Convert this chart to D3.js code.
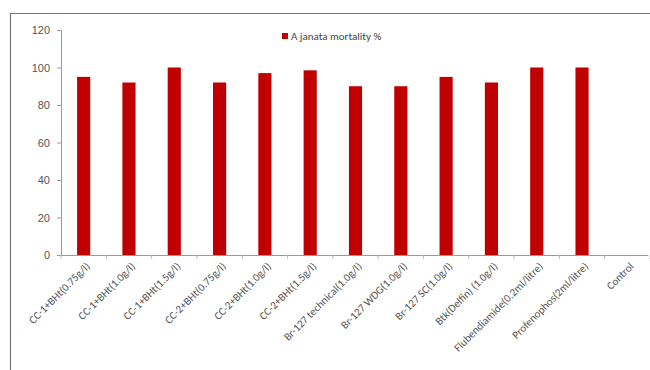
<!DOCTYPE html>
<html>
<head>
<meta charset="utf-8">
<script src="https://cdn.jsdelivr.net/npm/d3@7"></script>
<style>
  body { margin: 0; background: #fff; }
  svg { font-family: Calibri, Carlito, Lato, "Liberation Sans", Arial, sans-serif; }
</style>
</head>
<body>
<svg id="chart" width="650" height="370"></svg>
<script>
// treatments on the x axis
const treatments = [
  'CC-1+BHt(0.75g/l)', 'CC-1+BHt(1.0g/l)', 'CC-1+BHt(1.5g/l)',
  'CC-2+BHt(0.75g/l)', 'CC-2+BHt(1.0g/l)', 'CC-2+BHt(1.5g/l)',
  'Br-127 technical(1.0g/l)', 'Br-127 WDG(1.0g/l)', 'Br-127 SC(1.0g/l)',
  'Btk(Delfin) (1.0g/l)', 'Flubendiamide(0.2ml/litre)', 'Profenophos(2ml/litre)',
  'Control'
];
// A. janata mortality %
const mortality = [95, 92, 100, 92, 97, 98.5, 90, 90, 95, 92, 100, 100, 0];
const yTicks = [0, 20, 40, 60, 80, 100, 120];
const seriesName = 'A janata mortality %';

let svg = d3.select('#chart');

//outer frame lines
svg.append('line').attr('x1', 10).attr('y1', 13.5).attr('x2', 650).attr('y2', 13.5)
  .attr('stroke', '#777').attr('stroke-width', 1.2);
svg.append('line').attr('x1', 10.5).attr('y1', 13).attr('x2', 10.5).attr('y2', 370)
  .attr('stroke', '#777').attr('stroke-width', 1.2);

let x = d3.scaleBand().domain(treatments).range([61, 650]).paddingInner(0.71).paddingOuter(0.355);
let y = d3.scaleLinear().domain([0, 120]).range([255, 30]);

//y axis
let yAxis = d3.axisLeft(y).tickValues(yTicks).tickSize(4).tickPadding(7);
let gy = svg.append('g').attr('transform', 'translate(61,0)').call(yAxis);
gy.select('.domain').attr('stroke', '#999');
gy.selectAll('.tick line').attr('stroke', '#999');
gy.selectAll('.tick text').attr('fill', '#555').style('font-size', '11px');

//bars
svg.append('g').selectAll('rect')
  .data(mortality)
  .join('rect')
  .attr('x', (d, i) => x(treatments[i]))
  .attr('y', d => y(d))
  .attr('width', x.bandwidth())
  .attr('height', d => y(0) - y(d))
  .attr('fill', '#c00000');

//x axis line with ticks between categories
let step = x.step();
svg.append('line').attr('x1', 61).attr('x2', 648).attr('y1', 255.5).attr('y2', 255.5)
  .attr('stroke', '#999');
svg.append('g').selectAll('line')
  .data(d3.range(treatments.length + 1))
  .join('line')
  .attr('x1', i => 61 + i * step).attr('x2', i => 61 + i * step)
  .attr('y1', 255).attr('y2', 259)
  .attr('stroke', '#bbb');

//rotated category labels
svg.append('g').selectAll('text')
  .data(treatments)
  .join('text')
  .attr('transform', d => 'translate(' + (x(d) + x.bandwidth() / 2 + 7) + ',267)rotate(-45)')
  .attr('text-anchor', 'end')
  .attr('fill', '#555')
  .style('font-size', '11px')
  .text(d => d);

//legend
let legend = svg.append('g').attr('transform', 'translate(282,33)');
legend.append('rect').attr('width', 6).attr('height', 6).attr('fill', '#c00000');
legend.append('text').attr('x', 9).attr('y', 7).attr('fill', '#444')
  .style('font-size', '11px').text(seriesName);
</script>
</body>
</html>
